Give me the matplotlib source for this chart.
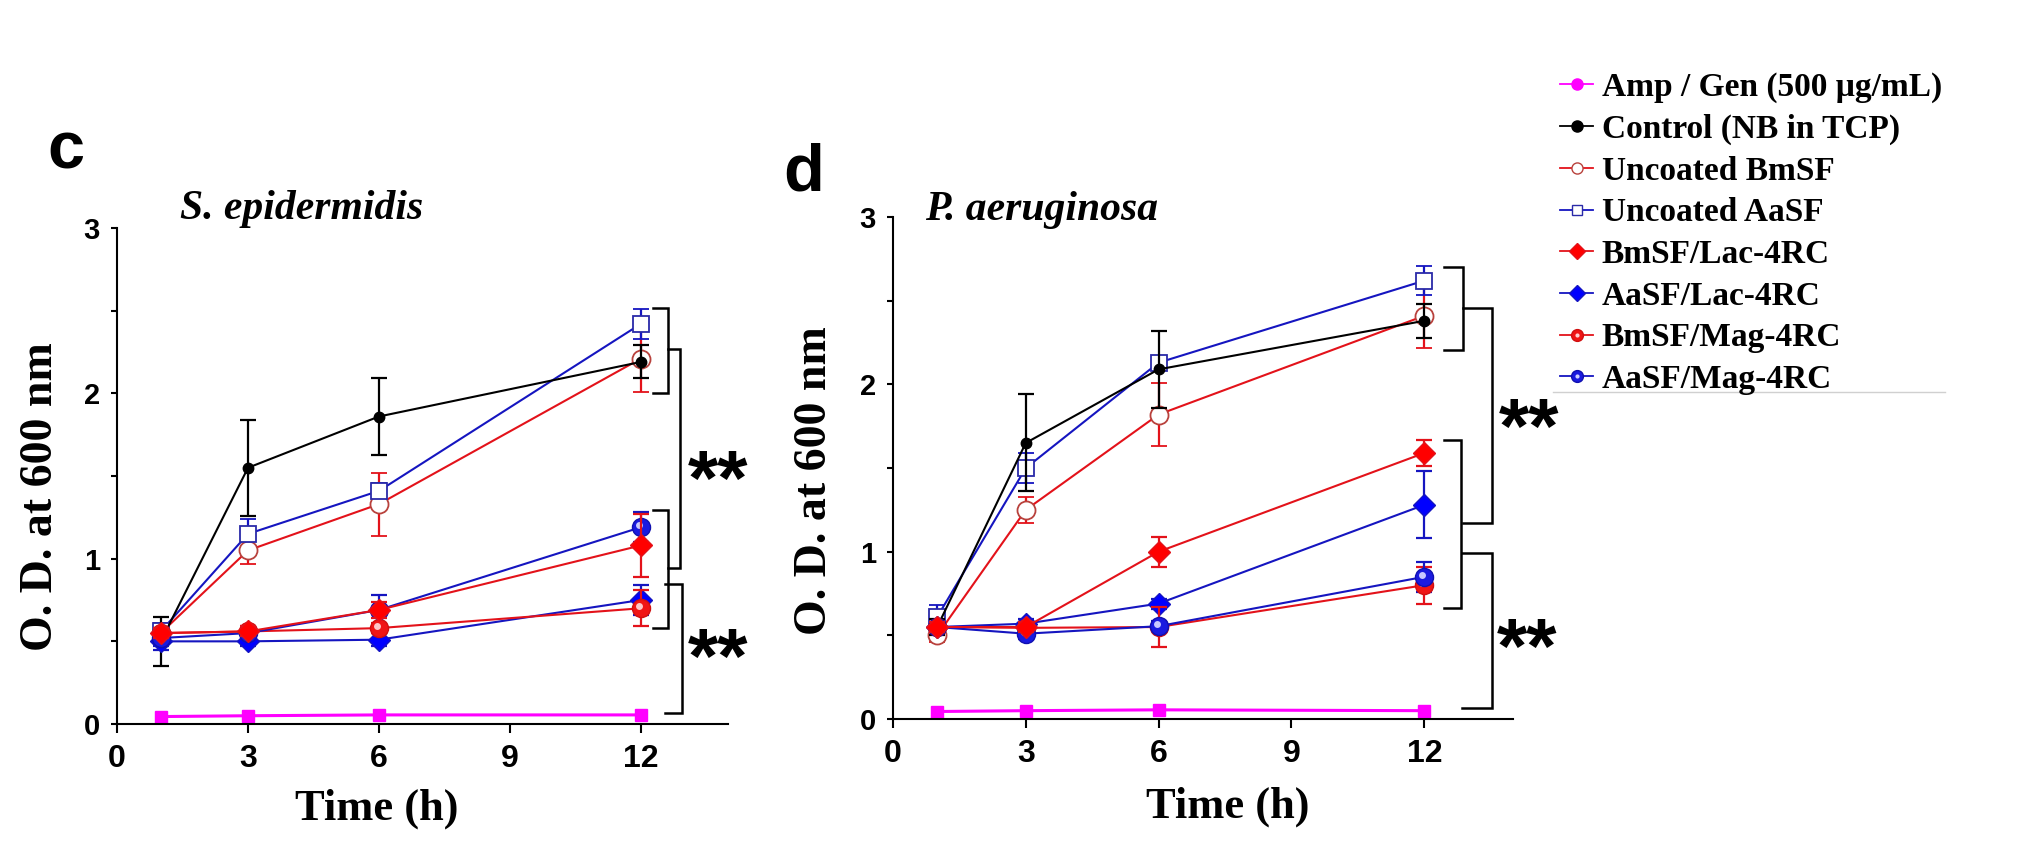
import numpy as np
import matplotlib
matplotlib.use("Agg")
import matplotlib.pyplot as plt
from matplotlib.lines import Line2D
from matplotlib.legend_handler import HandlerTuple
from matplotlib.transforms import ScaledTranslation

# time points (h)
t = [1, 3, 6, 12]

labels = ["Amp / Gen (500 \u03bcg/mL)", "Control (NB in TCP)", "Uncoated BmSF",
          "Uncoated AaSF", "BmSF/Lac-4RC", "AaSF/Lac-4RC", "BmSF/Mag-4RC", "AaSF/Mag-4RC"]

# panel c  S. epidermidis
c_amp = [0.045, 0.05, 0.055, 0.055]
c_amp_err = [0.01, 0.01, 0.01, 0.01]
c_ctrl = [0.50, 1.55, 1.86, 2.19]
c_ctrl_err = [0.15, 0.29, 0.23, 0.10]
c_ubm = [0.55, 1.05, 1.33, 2.21]
c_ubm_err = [0.04, 0.08, 0.19, 0.20]
c_uaa = [0.56, 1.15, 1.41, 2.42]
c_uaa_err = [0.05, 0.09, 0.05, 0.09]
c_bmlac = [0.55, 0.56, 0.69, 1.08]
c_bmlac_err = [0.03, 0.03, 0.05, 0.19]
c_aalac = [0.50, 0.50, 0.51, 0.75]
c_aalac_err = [0.05, 0.03, 0.04, 0.09]
c_bmmag = [0.55, 0.56, 0.58, 0.70]
c_bmmag_err = [0.03, 0.03, 0.03, 0.11]
c_aamag = [0.52, 0.55, 0.69, 1.19]
c_aamag_err = [0.05, 0.03, 0.09, 0.09]

# panel d  P. aeruginosa
d_amp = [0.045, 0.05, 0.055, 0.05]
d_amp_err = [0.01, 0.01, 0.01, 0.01]
d_ctrl = [0.55, 1.65, 2.09, 2.38]
d_ctrl_err = [0.05, 0.29, 0.23, 0.10]
d_ubm = [0.50, 1.25, 1.82, 2.41]
d_ubm_err = [0.04, 0.08, 0.19, 0.19]
d_uaa = [0.61, 1.50, 2.13, 2.62]
d_uaa_err = [0.07, 0.09, 0.04, 0.085]
d_bmlac = [0.55, 0.55, 1.00, 1.59]
d_bmlac_err = [0.03, 0.03, 0.09, 0.08]
d_aalac = [0.55, 0.57, 0.69, 1.28]
d_aalac_err = [0.03, 0.03, 0.03, 0.20]
d_bmmag = [0.55, 0.545, 0.55, 0.80]
d_bmmag_err = [0.03, 0.03, 0.12, 0.11]
d_aamag = [0.55, 0.51, 0.555, 0.85]
d_aamag_err = [0.03, 0.03, 0.03, 0.09]

RED = '#e3121a'
BLUE = '#1515c0'
BROWN = '#b8413c'
NAVY = '#2a2aa8'
MAG = '#ff00ff'

SERIF = 'Liberation Serif'
NARROW = ['Liberation Sans Narrow', 'Liberation Sans']

fig = plt.figure(figsize=(20.4, 8.56), dpi=100)
ax_c = fig.add_axes([0.0574, 0.1542, 0.2995, 0.5794])
ax_d = fig.add_axes([0.4377, 0.1600, 0.3039, 0.5864])


def hl_trans(ax):
    return ax.transData + ScaledTranslation(-1.5 / 72, 1.5 / 72, fig.dpi_scale_trans)


def draw_panel(ax, amp, amp_e, ctrl, ctrl_e, ubm, ubm_e, uaa, uaa_e,
               bmlac, bmlac_e, aalac, aalac_e, bmmag, bmmag_e, aamag, aamag_e):
    kw = dict(capsize=5.5, elinewidth=1.6, capthick=1.6, lw=1.5)
    ax.errorbar(t, amp, yerr=amp_e, color=MAG, marker='s', ms=9, lw=2.2,
                capsize=0, elinewidth=0, zorder=2)
    ax.errorbar(t, ubm, yerr=ubm_e, color=RED, marker='o', ms=13, mfc='white',
                mec=BROWN, mew=1.3, zorder=3, **kw)
    ax.errorbar(t, uaa, yerr=uaa_e, color=BLUE, marker='s', ms=12, mfc='white',
                mec=NAVY, mew=1.3, zorder=3, **kw)
    ax.errorbar(t, ctrl, yerr=ctrl_e, color='black', marker='o', ms=7.5, zorder=4, **kw)
    ax.errorbar(t, aalac, yerr=aalac_e, color=BLUE, marker='D', ms=11, mec=BLUE,
                mfc='#0000ff', zorder=4, **kw)
    ax.errorbar(t, bmmag, yerr=bmmag_e, color=RED, marker='o', ms=13, mec='#d01010',
                mfc='#f01515', zorder=5, **kw)
    ax.plot(t, bmmag, ls='none', marker='o', ms=5, mfc='#ffc8c8', mec='none',
            transform=hl_trans(ax), zorder=5.1)
    ax.errorbar(t, aamag, yerr=aamag_e, color=BLUE, marker='o', ms=13, mec='#1010b0',
                mfc='#1a1ae0', zorder=5, **kw)
    ax.plot(t, aamag, ls='none', marker='o', ms=5, mfc='#c8c8ff', mec='none',
            transform=hl_trans(ax), zorder=5.1)
    ax.errorbar(t, bmlac, yerr=bmlac_e, color=RED, marker='D', ms=11, mec=RED,
                mfc='#ff0000', zorder=6, **kw)

    ax.set_xlim(0, 14)
    ax.set_ylim(0, 3)
    ax.set_xticks([0, 3, 6, 9, 12])
    ax.set_yticks([0, 1, 2, 3])
    ax.set_yticks([0.5, 1.5, 2.5], minor=True)
    for s in ['top', 'right']:
        ax.spines[s].set_visible(False)
    for s in ['left', 'bottom']:
        ax.spines[s].set_linewidth(1.5)
    ax.tick_params(axis='x', direction='out', length=6.5, width=1.5, pad=8)
    ax.tick_params(axis='y', which='both', direction='out', length=4.3, width=1.5, pad=8)
    for lab in ax.get_xticklabels():
        lab.set_family(NARROW)
        lab.set_weight('bold')
        lab.set_fontsize(23)
    for lab in ax.get_yticklabels():
        lab.set_family(NARROW)
        lab.set_weight('bold')
        lab.set_fontsize(21)
    ax.set_ylabel('O. D. at 600 nm', family=SERIF, weight='bold', fontsize=33)
    ax.set_xlabel('Time (h)', family=SERIF, weight='bold', fontsize=32)


def bracket(ax, x0, x1, y0, y1):
    ax.plot([x0, x1, x1, x0], [y0, y0, y1, y1], color='black', lw=1.8,
            clip_on=False, solid_joinstyle='miter', zorder=7)


def stars(ax, x, y):
    ax.text(x, y, '**', family='Liberation Sans', weight='bold', fontsize=56,
            va='center', ha='left', clip_on=False)


draw_panel(ax_c, c_amp, c_amp_err, c_ctrl, c_ctrl_err, c_ubm, c_ubm_err, c_uaa, c_uaa_err,
           c_bmlac, c_bmlac_err, c_aalac, c_aalac_err, c_bmmag, c_bmmag_err, c_aamag, c_aamag_err)
draw_panel(ax_d, d_amp, d_amp_err, d_ctrl, d_ctrl_err, d_ubm, d_ubm_err, d_uaa, d_uaa_err,
           d_bmlac, d_bmlac_err, d_aalac, d_aalac_err, d_bmmag, d_bmmag_err, d_aamag, d_aamag_err)

# significance brackets, panel c
bracket(ax_c, 12.29, 12.63, 2.515, 2.0)
bracket(ax_c, 12.29, 12.63, 1.295, 0.579)
bracket(ax_c, 12.63, 12.9, 2.267, 0.942)
bracket(ax_c, 12.55, 12.95, 0.847, 0.065)
stars(ax_c, 13.08, 1.45)
stars(ax_c, 13.08, 0.37)

# significance brackets, panel d
bracket(ax_d, 12.45, 12.87, 2.703, 2.205)
bracket(ax_d, 12.45, 12.83, 1.668, 0.662)
bracket(ax_d, 12.87, 13.53, 2.455, 1.17)
bracket(ax_d, 12.85, 13.53, 0.99, 0.064)
stars(ax_d, 13.68, 1.71)
stars(ax_d, 13.64, 0.40)

# label positions
for ax, ylx, yly, xlx, xly in [(ax_c, -0.125, 0.458, 0.425, -0.171),
                               (ax_d, -0.126, 0.474, 0.54, -0.175)]:
    ax.yaxis.set_label_coords(ylx, yly)
    ax.yaxis.label.set_va('center')
    ax.xaxis.set_label_coords(xlx, xly)
    ax.xaxis.label.set_va('center')

ax_c.text(0.103, 1.018, 'S. epidermidis', transform=ax_c.transAxes, family=SERIF,
          weight='bold', style='italic', fontsize=30, va='baseline')
ax_d.text(0.052, 0.994, 'P. aeruginosa', transform=ax_d.transAxes, family=SERIF,
          weight='bold', style='italic', fontsize=30, va='baseline')

fig.text(0.023, 0.8037, 'c', family='Liberation Sans', weight='bold', fontsize=48, va='baseline')
fig.text(0.3838, 0.778, 'd', family='Liberation Sans', weight='bold', fontsize=48, va='baseline')

# legend
h_amp = Line2D([], [], color=MAG, marker='o', ms=8, lw=1.3)
h_ctrl = Line2D([], [], color='black', marker='o', ms=8, lw=1.3)
h_ubm = Line2D([], [], color=RED, marker='o', ms=8, mfc='white', mec=BROWN, lw=1.3)
h_uaa = Line2D([], [], color=BLUE, marker='s', ms=7.5, mfc='white', mec=NAVY, lw=1.3)
h_bmlac = Line2D([], [], color=RED, marker='D', ms=8, mfc='#ff0000', mec=RED, lw=1.3)
h_aalac = Line2D([], [], color=BLUE, marker='D', ms=8, mfc='#0000ff', mec=BLUE, lw=1.3)
h_bmmag = (Line2D([], [], color=RED, marker='o', ms=8.5, mfc='#f01515', mec='#d01010', lw=1.3),
           Line2D([], [], ls='', marker='o', ms=3, mfc='#ffd0d0', mec='none'))
h_aamag = (Line2D([], [], color=BLUE, marker='o', ms=8.5, mfc='#1a1ae0', mec='#1010b0', lw=1.3),
           Line2D([], [], ls='', marker='o', ms=3, mfc='#d0d0ff', mec='none'))
handles = [h_amp, h_ctrl, h_ubm, h_uaa, h_bmlac, h_aalac, h_bmmag, h_aamag]
fig.legend(handles, labels, loc='upper left', bbox_to_anchor=(1560 / 2040, 1 - 72 / 856),
           frameon=False, prop=dict(family=SERIF, weight='bold', size=24),
           handlelength=1.0, handletextpad=0.25, labelspacing=0.32, borderpad=0,
           borderaxespad=0, handler_map={tuple: HandlerTuple(ndivide=1, pad=0)})
fig.add_artist(Line2D([1553 / 2040, 1945 / 2040], [1 - 392 / 856, 1 - 392 / 856],
                      color='#d0d0d0', lw=1.0))

fig.savefig('out.png', dpi=100)
